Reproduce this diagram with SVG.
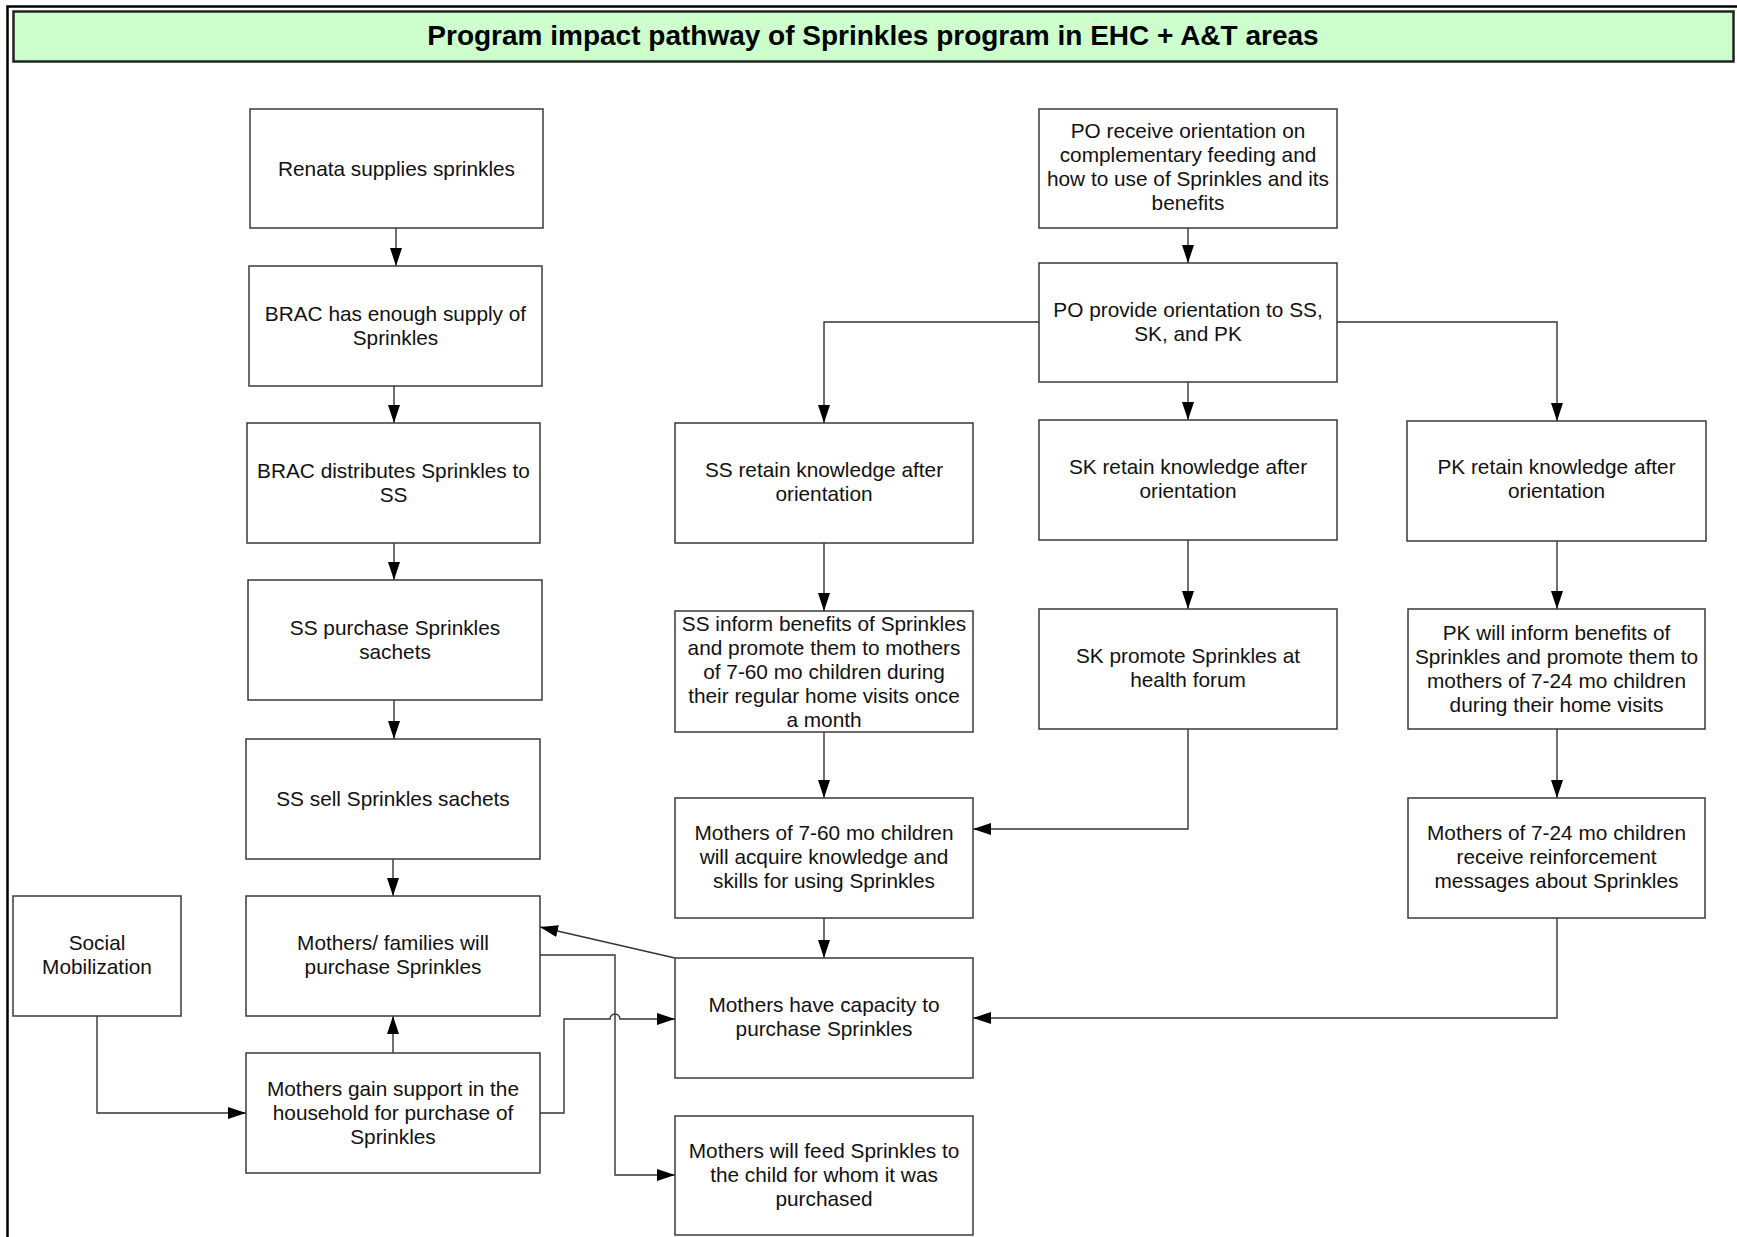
<svg xmlns="http://www.w3.org/2000/svg" width="1737" height="1237" viewBox="0 0 1737 1237">
<defs>
<marker id="arr" markerUnits="userSpaceOnUse" markerWidth="18" markerHeight="12" refX="18" refY="6" orient="auto">
<path d="M0,0 L18,6 L0,12 z" fill="#000"/>
</marker>
<style>
.box{fill:#fff;stroke:#3a3a3a;stroke-width:1.5}
.t{font-family:"Liberation Sans",Arial,sans-serif;font-size:20.8px;fill:#111;text-anchor:middle}
.c{fill:none;stroke:#333;stroke-width:1.4;marker-end:url(#arr)}
</style>
</defs>
<rect x="0" y="0" width="1737" height="1237" fill="#fff"/>
<g id="frame">
<path d="M1737,6.5 H7.5 V1237" fill="none" stroke="#000" stroke-width="2.5"/>
</g>
<g id="title">
<rect x="13.5" y="11.5" width="1720" height="50" fill="#ccffcc" stroke="#222" stroke-width="2.5"/>
<text x="873" y="44.5" font-family="'Liberation Sans',Arial,sans-serif" font-size="28" font-weight="bold" text-anchor="middle" fill="#000">Program impact pathway of Sprinkles program in EHC + A&amp;T areas</text>
</g>
<g id="connectors">
<path class="c" d="M396,228 V266"/>
<path class="c" d="M394,386 V423"/>
<path class="c" d="M394,543 V580"/>
<path class="c" d="M394,700 V739"/>
<path class="c" d="M393,859 V896"/>
<path class="c" d="M393,1053 V1016"/>
<path class="c" d="M97,1016 V1113 H246"/>
<path class="c" d="M540,1113 H564 V1019 H610 A5,5 0 0 1 620,1019 H675"/>
<path class="c" d="M540,955 H615 V1175 H675"/>
<path class="c" d="M675,958 L540,927"/>
<path class="c" d="M824,918 V958"/>
<path class="c" d="M824,543 V611"/>
<path class="c" d="M824,732 V798"/>
<path class="c" d="M1188,228 V263"/>
<path class="c" d="M1039,322 H824 V423"/>
<path class="c" d="M1188,382 V420"/>
<path class="c" d="M1337,322 H1557 V421"/>
<path class="c" d="M1188,540 V609"/>
<path class="c" d="M1557,541 V609"/>
<path class="c" d="M1188,729 V829 H973"/>
<path class="c" d="M1557,729 V798"/>
<path class="c" d="M1557,918 V1018 H973"/>
</g>
<g id="n-renata">
<rect class="box" x="250" y="109" width="293" height="119"/>
<text class="t" x="396.5" y="175.5">Renata supplies sprinkles</text>
</g>
<g id="n-brac-supply">
<rect class="box" x="249" y="266" width="293" height="120"/>
<text class="t" x="395.5" y="321">BRAC has enough supply of</text>
<text class="t" x="395.5" y="345">Sprinkles</text>
</g>
<g id="n-brac-distributes">
<rect class="box" x="247" y="423" width="293" height="120"/>
<text class="t" x="393.5" y="478">BRAC distributes Sprinkles to</text>
<text class="t" x="393.5" y="502">SS</text>
</g>
<g id="n-ss-purchase">
<rect class="box" x="248" y="580" width="294" height="120"/>
<text class="t" x="395" y="635">SS purchase Sprinkles</text>
<text class="t" x="395" y="659">sachets</text>
</g>
<g id="n-ss-sell">
<rect class="box" x="246" y="739" width="294" height="120"/>
<text class="t" x="393" y="806">SS sell Sprinkles sachets</text>
</g>
<g id="n-mothers-families">
<rect class="box" x="246" y="896" width="294" height="120"/>
<text class="t" x="393" y="950">Mothers/ families will</text>
<text class="t" x="393" y="974">purchase Sprinkles</text>
</g>
<g id="n-mothers-support">
<rect class="box" x="246" y="1053" width="294" height="120"/>
<text class="t" x="393" y="1096">Mothers gain support in the</text>
<text class="t" x="393" y="1120">household for purchase of</text>
<text class="t" x="393" y="1144">Sprinkles</text>
</g>
<g id="n-social">
<rect class="box" x="13" y="896" width="168" height="120"/>
<text class="t" x="97" y="950">Social</text>
<text class="t" x="97" y="974">Mobilization</text>
</g>
<g id="n-po-receive">
<rect class="box" x="1039" y="109" width="298" height="119"/>
<text class="t" x="1188" y="138">PO receive orientation on</text>
<text class="t" x="1188" y="162">complementary feeding and</text>
<text class="t" x="1188" y="186">how to use of Sprinkles and its</text>
<text class="t" x="1188" y="210">benefits</text>
</g>
<g id="n-po-provide">
<rect class="box" x="1039" y="263" width="298" height="119"/>
<text class="t" x="1188" y="317">PO provide orientation to SS,</text>
<text class="t" x="1188" y="341">SK, and PK</text>
</g>
<g id="n-ss-retain">
<rect class="box" x="675" y="423" width="298" height="120"/>
<text class="t" x="824" y="477">SS retain knowledge after</text>
<text class="t" x="824" y="501">orientation</text>
</g>
<g id="n-sk-retain">
<rect class="box" x="1039" y="420" width="298" height="120"/>
<text class="t" x="1188" y="474">SK retain knowledge after</text>
<text class="t" x="1188" y="498">orientation</text>
</g>
<g id="n-pk-retain">
<rect class="box" x="1407" y="421" width="299" height="120"/>
<text class="t" x="1556.5" y="474">PK retain knowledge after</text>
<text class="t" x="1556.5" y="498">orientation</text>
</g>
<g id="n-ss-inform">
<rect class="box" x="675" y="611" width="298" height="121"/>
<text class="t" x="824" y="631">SS inform benefits of Sprinkles</text>
<text class="t" x="824" y="655">and promote them to mothers</text>
<text class="t" x="824" y="679">of 7-60 mo children during</text>
<text class="t" x="824" y="703">their regular home visits once</text>
<text class="t" x="824" y="727">a month</text>
</g>
<g id="n-sk-promote">
<rect class="box" x="1039" y="609" width="298" height="120"/>
<text class="t" x="1188" y="663">SK promote Sprinkles at</text>
<text class="t" x="1188" y="687">health forum</text>
</g>
<g id="n-pk-inform">
<rect class="box" x="1408" y="609" width="297" height="120"/>
<text class="t" x="1556.5" y="640">PK will inform benefits of</text>
<text class="t" x="1556.5" y="664">Sprinkles and promote them to</text>
<text class="t" x="1556.5" y="688">mothers of 7-24 mo children</text>
<text class="t" x="1556.5" y="712">during their home visits</text>
</g>
<g id="n-mothers-760">
<rect class="box" x="675" y="798" width="298" height="120"/>
<text class="t" x="824" y="840">Mothers of 7-60 mo children</text>
<text class="t" x="824" y="864">will acquire knowledge and</text>
<text class="t" x="824" y="888">skills for using Sprinkles</text>
</g>
<g id="n-mothers-724">
<rect class="box" x="1408" y="798" width="297" height="120"/>
<text class="t" x="1556.5" y="840">Mothers of 7-24 mo children</text>
<text class="t" x="1556.5" y="864">receive reinforcement</text>
<text class="t" x="1556.5" y="888">messages about Sprinkles</text>
</g>
<g id="n-capacity">
<rect class="box" x="675" y="958" width="298" height="120"/>
<text class="t" x="824" y="1012">Mothers have capacity to</text>
<text class="t" x="824" y="1036">purchase Sprinkles</text>
</g>
<g id="n-feed">
<rect class="box" x="675" y="1116" width="298" height="119"/>
<text class="t" x="824" y="1158">Mothers will feed Sprinkles to</text>
<text class="t" x="824" y="1182">the child for whom it was</text>
<text class="t" x="824" y="1206">purchased</text>
</g>
</svg>
